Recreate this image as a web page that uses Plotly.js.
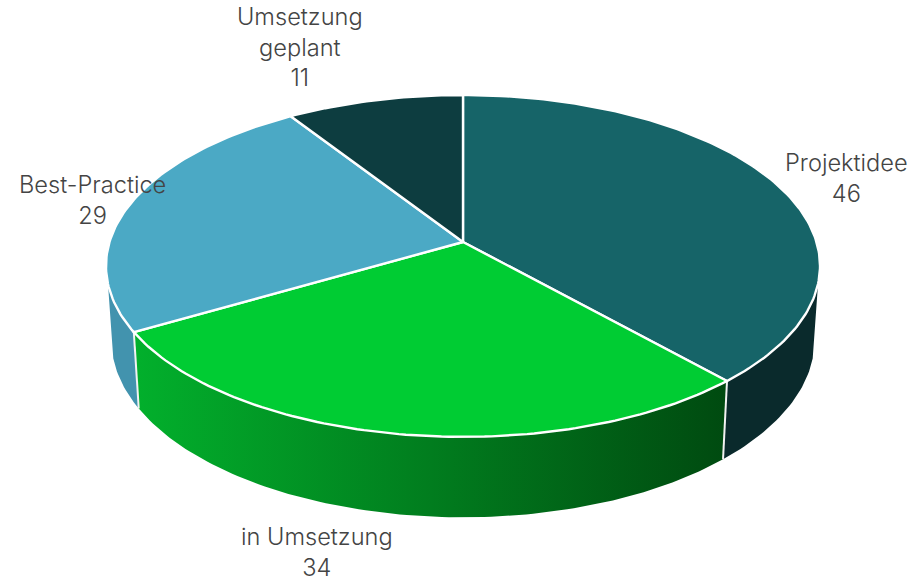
<!DOCTYPE html>
<html>
<head>
<meta charset="utf-8">
<script src="https://cdn.plot.ly/plotly-3.0.1.min.js"></script>
<style>html,body{margin:0;padding:0;background:#fff}#chart{width:924px;height:582px}</style>
</head>
<body>
<div id="chart"></div>
<script>
// Data
const categories = ['Projektidee', 'in Umsetzung', 'Best-Practice', 'Umsetzung<br>geplant'];
const values = [46, 34, 29, 11];

// Styles
const topColors = ['#166468', '#00CC33', '#4BA9C5', '#0D3D40'];
const sideStops = [
  ['#0A2A2C', '#0A2A2C'],
  ['#02B02C', '#004A10'],
  ['#4293AE', '#4293AE'],
  ['#0A2A2C', '#0A2A2C']
];
const labelAnchors = [[846, 178], [317, 552], [92, 200], [300, 47]];

// Perspective model of the pie disc
const apexX = 463, apexY = 242;
const R = 353.5, S = 167.6, k = 0.14;
const bottomXScale = 0.985, bottomYOffset = 73, bottomYScale = 174 / 167.6;
function rim(deg, bottom) {
  const a = deg * Math.PI / 180, u = Math.sin(a), v = -Math.cos(a);
  const d = 1 - k * v;
  const px = R * u / d, py = S * v / d;
  return bottom
    ? [apexX + px * bottomXScale, apexY + bottomYOffset + py * bottomYScale]
    : [apexX + px, apexY + py];
}
function arc(a0, a1, bottom) {
  const pts = [], n = Math.max(2, Math.ceil(Math.abs(a1 - a0) / 1));
  for (let i = 0; i <= n; i++) pts.push(rim(a0 + (a1 - a0) * i / n, bottom));
  return pts;
}

const total = values.reduce((a, b) => a + b, 0);
const edges = [0];
values.forEach(v => edges.push(edges[edges.length - 1] + v / total * 360));

// Angles where the wall emerges from behind the top disc
const SIL_R = 104, SIL_L = 256;
const traces = [];

function poly(pts, extra) {
  return Object.assign({
    x: pts.map(p => p[0]), y: pts.map(p => p[1]),
    type: 'scatter', mode: 'lines', fill: 'toself',
    hoverinfo: 'skip', showlegend: false
  }, extra);
}

// Visible side walls
values.forEach((v, i) => {
  const a0 = Math.max(edges[i], SIL_R), a1 = Math.min(edges[i + 1], SIL_L);
  if (a1 <= a0) return;
  const pts = arc(a0, a1, false).concat(arc(a1, a0, true));
  pts.push(pts[0]);
  const xs = pts.map(p => p[0]);
  const extra = { line: { width: 0, color: sideStops[i][0] } };
  if (sideStops[i][0] !== sideStops[i][1]) {
    extra.fillgradient = {
      type: 'horizontal',
      colorscale: [[0, sideStops[i][0]], [1, sideStops[i][1]]],
      start: Math.min(...xs), stop: Math.max(...xs)
    };
  } else {
    extra.fillcolor = sideStops[i][0];
  }
  traces.push(poly(pts, extra));
});

// White dividers on the wall
edges.slice(1, -1).forEach(e => {
  if (e <= SIL_R || e >= SIL_L) return;
  const a = rim(e, false), b = rim(e, true);
  traces.push({
    x: [a[0], b[0]], y: [a[1], b[1]], type: 'scatter', mode: 'lines',
    line: { color: '#F2F2F2', width: 2 }, hoverinfo: 'skip', showlegend: false
  });
});

// Top faces
values.forEach((v, i) => {
  const pts = [[apexX, apexY]].concat(arc(edges[i], edges[i + 1], false));
  pts.push([apexX, apexY]);
  traces.push(poly(pts, {
    fillcolor: topColors[i],
    line: { color: '#FFFFFF', width: 2.4 }
  }));
});

const annotations = categories.map((c, i) => ({
  x: labelAnchors[i][0], y: labelAnchors[i][1], xref: 'x', yref: 'y',
  text: c + '<br>' + values[i], showarrow: false,
  xanchor: 'center', yanchor: 'middle', align: 'center',
  font: { family: 'Inter, Lato, sans-serif', weight: 300, size: 23.6, color: '#444444' }
}));

const layout = {
  width: 924, height: 582,
  margin: { l: 0, r: 0, t: 0, b: 0 },
  paper_bgcolor: '#FFFFFF', plot_bgcolor: '#FFFFFF',
  xaxis: { range: [0, 924], visible: false, fixedrange: true },
  yaxis: { range: [582, 0], visible: false, fixedrange: true },
  showlegend: false,
  annotations
};
Plotly.newPlot('chart', traces, layout, { displayModeBar: false, staticPlot: true });
</script>
</body>
</html>
